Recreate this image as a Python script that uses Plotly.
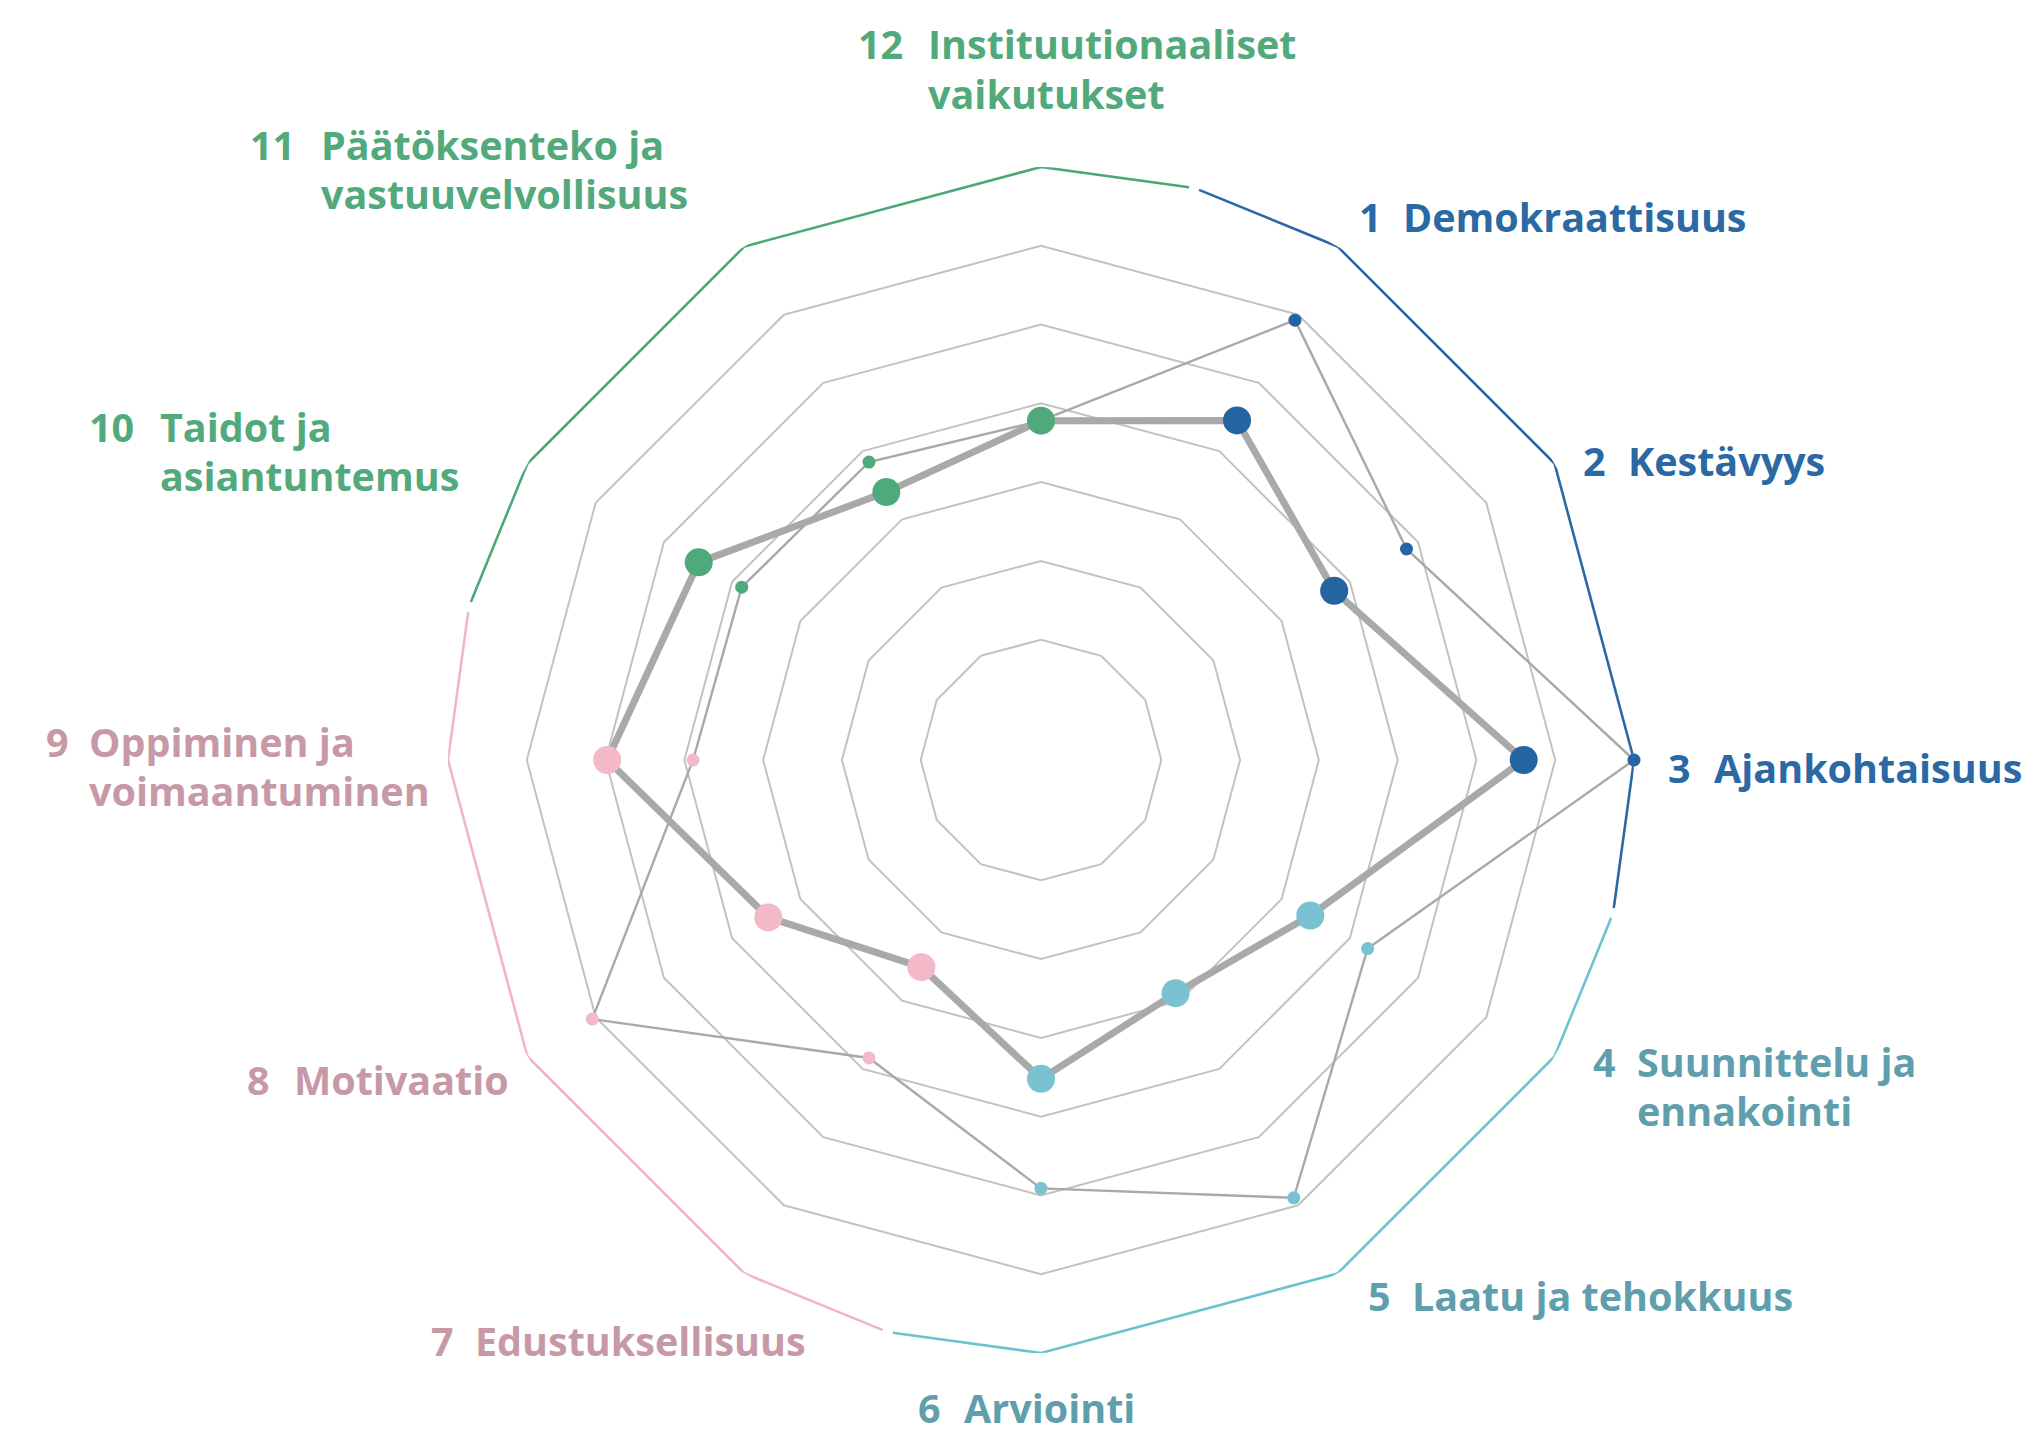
import math
import plotly.graph_objects as go

# Dimensions, clockwise from the top
numbers = ["12", "1", "2", "3", "4", "5", "6", "7", "8", "9", "10", "11"]
categories = [
    "Instituutionaaliset vaikutukset", "Demokraattisuus", "Kestävyys", "Ajankohtaisuus",
    "Suunnittelu ja ennakointi", "Laatu ja tehokkuus", "Arviointi", "Edustuksellisuus",
    "Motivaatio", "Oppiminen ja voimaantuminen", "Taidot ja asiantuntemus",
    "Päätöksenteko ja vastuuvelvollisuus",
]
groups = ["green", "blue", "blue", "blue", "teal", "teal", "teal",
          "pink", "pink", "pink", "green", "green"]

# Two profiles on a 1-7 scale
profile_a = [3.78, 4.45, 3.77, 5.60, 3.42, 2.89, 3.52, 2.51, 3.47, 4.98, 4.49, 3.40]
profile_b = [3.78, 5.92, 4.83, 7.00, 4.26, 5.89, 4.91, 3.84, 6.05, 3.89, 3.86, 3.84]

ring_values = [1, 2, 3, 4, 5, 6]
scale_max = 7

marker_colors = {"blue": "#2464a1", "teal": "#7ac2d1", "pink": "#f3b9c9", "green": "#4faa7b"}
border_colors = {"blue": "#2b68a4", "teal": "#6dc2d2", "pink": "#f0b6c6", "green": "#4aa877"}
label_colors = {"blue": "#2a69a4", "teal": "#5f9fad", "pink": "#c799a7", "green": "#52a97c"}

# Label text: number, lines, anchor positions in pixels (number x, text x, line centre ys)
label_lines = {
    "12": ["Instituutionaaliset", "vaikutukset"],
    "1": ["Demokraattisuus"],
    "2": ["Kestävyys"],
    "3": ["Ajankohtaisuus"],
    "4": ["Suunnittelu ja", "ennakointi"],
    "5": ["Laatu ja tehokkuus"],
    "6": ["Arviointi"],
    "7": ["Edustuksellisuus"],
    "8": ["Motivaatio"],
    "9": ["Oppiminen ja", "voimaantuminen"],
    "10": ["Taidot ja", "asiantuntemus"],
    "11": ["Päätöksenteko ja", "vastuuvelvollisuus"],
}
label_pos = {
    "12": (857, 927, [44, 94]),
    "1": (1358, 1402, [217]),
    "2": (1582, 1627, [461]),
    "3": (1667, 1713, [768]),
    "4": (1592, 1636, [1062, 1111]),
    "5": (1367, 1411, [1296]),
    "6": (917, 963, [1408]),
    "7": (430, 474, [1341]),
    "8": (246, 293, [1080]),
    "9": (45, 88, [742, 791]),
    "10": (88, 159, [427, 476]),
    "11": (249, 320, [145, 194]),
}

W, H = 2030, 1438
cx, cy, R = 1041, 760, 593
HOLE = 0.07
domain_x = [(cx - R) / W, (cx + R) / W]
domain_y = [1 - (cy + R) / H, 1 - (cy - R) / H]

fig = go.Figure()

pt_colors = [marker_colors[g] for g in groups]
closed = lambda seq: list(seq) + [seq[0]]

# profile lines
fig.add_trace(go.Scatterpolar(
    r=closed(profile_b), theta=closed(categories), mode="lines",
    line=dict(color="#a9a9a9", width=2.4), subplot="polar", hoverinfo="skip",
))
fig.add_trace(go.Scatterpolar(
    r=closed(profile_a), theta=closed(categories), mode="lines",
    line=dict(color="#a9a9a9", width=7), subplot="polar", hoverinfo="skip",
))
# profile markers
fig.add_trace(go.Scatterpolar(
    r=profile_b, theta=categories, mode="markers",
    marker=dict(size=13, color=pt_colors), subplot="polar",
))
fig.add_trace(go.Scatterpolar(
    r=profile_a, theta=categories, mode="markers",
    marker=dict(size=28, color=pt_colors), subplot="polar",
))

# coloured outer border: one polyline per group, split at edge midpoints
gap = 0.5  # degrees either side of the split
c15 = math.cos(math.radians(15))


def edge_r(offset_deg):
    """Value on the outer polygon edge at an angle offset from the edge midpoint."""
    frac = c15 / math.cos(math.radians(offset_deg))
    return scale_max * (frac - HOLE) / (1 - HOLE)


for gi, gname in enumerate(["blue", "teal", "pink", "green"]):
    start = 15 + 90 * gi + gap
    end = 15 + 90 * (gi + 1) - gap
    thetas = [start] + [30 * (3 * gi + k) for k in (1, 2, 3)] + [end]
    rs = [edge_r(15 - gap)] + [scale_max] * 3 + [edge_r(15 - gap)]
    fig.add_trace(go.Scatterpolar(
        r=rs, theta=thetas, mode="lines",
        line=dict(color=border_colors[gname], width=2.6),
        subplot="polar2", hoverinfo="skip",
    ))

# dimension labels
font_family = "Open Sans"
fsize = 39.5
for num in numbers:
    nx, tx, ys = label_pos[num]
    col = label_colors[groups[numbers.index(num)]]
    fig.add_annotation(
        x=nx / W, y=1 - ys[0] / H, xref="paper", yref="paper",
        xanchor="left", yanchor="middle", showarrow=False, text=num, borderpad=0,
        font=dict(family=font_family, size=fsize, color=col, weight=700),
    )
    for line, yy in zip(label_lines[num], ys):
        fig.add_annotation(
            x=tx / W, y=1 - yy / H, xref="paper", yref="paper",
            xanchor="left", yanchor="middle", showarrow=False, text=line, borderpad=0,
            font=dict(family=font_family, size=fsize, color=col, weight=700),
        )

fig.update_layout(
    width=W, height=H,
    margin=dict(l=0, r=0, t=0, b=0),
    paper_bgcolor="white",
    showlegend=False,
    polar=dict(
        domain=dict(x=domain_x, y=domain_y),
        bgcolor="rgba(0,0,0,0)",
        gridshape="linear",
        hole=HOLE,
        radialaxis=dict(range=[0, scale_max], tickvals=ring_values, showticklabels=False,
                        showline=False, ticks="", gridcolor="#c2c2c2", gridwidth=1.5),
        angularaxis=dict(type="category", categoryarray=categories, direction="clockwise",
                         rotation=90, showline=False, showgrid=False, showticklabels=False,
                         ticks=""),
    ),
    polar2=dict(
        domain=dict(x=domain_x, y=domain_y),
        bgcolor="rgba(0,0,0,0)",
        hole=HOLE,
        radialaxis=dict(range=[0, scale_max], visible=False),
        angularaxis=dict(direction="clockwise", rotation=90, visible=False),
    ),
)

fig.write_html("out.html")
